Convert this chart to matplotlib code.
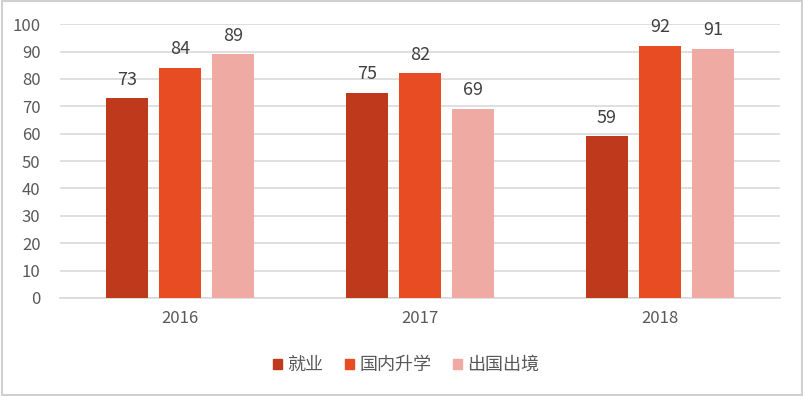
import matplotlib
matplotlib.use("Agg")
import matplotlib.pyplot as plt
import matplotlib.patches as mpatches
import numpy as np

plt.rcParams['font.family'] = ['Noto Sans CJK SC', 'DejaVu Sans']

years = ["2016", "2017", "2018"]
series = ["就业", "国内升学", "出国出境"]
jiuye = [73, 75, 59]
guonei = [84, 82, 92]
chuguo = [89, 69, 91]
colors = ["#BF3A1C", "#E84C22", "#EFAAA4"]

fig = plt.figure(figsize=(8.04, 3.96), dpi=100, facecolor="white")
ax = fig.add_axes([0.0746, 0.2475, 0.8954, 0.6915])

x = np.arange(len(years))
offsets = [-0.222, 0.0, 0.222]
width = 0.175
for vals, off, col in zip([jiuye, guonei, chuguo], offsets, colors):
    bars = ax.bar(x + off, vals, width=width, color=col, zorder=3)
    for b, v in zip(bars, vals):
        ax.text(b.get_x() + b.get_width() / 2, v + 3.5, str(v), ha="center", va="bottom",
                fontsize=13, color="#404040", zorder=4)

ax.set_xlim(-0.5, 2.5)
ax.set_ylim(0, 100)
ax.set_yticks(range(0, 101, 10))
ax.set_xticks(x)
ax.set_xticklabels(years)
ax.grid(axis="y", color="#d9d9d9", lw=1.2, zorder=0)
for s in ["top", "right", "left"]:
    ax.spines[s].set_visible(False)
ax.spines["bottom"].set_color("#d9d9d9")
ax.spines["bottom"].set_linewidth(1.2)
ax.tick_params(axis="both", length=0, colors="#595959", labelsize=12)
ax.tick_params(axis="y", pad=14)
ax.tick_params(axis="x", pad=9)

handles = [mpatches.Patch(color=c, label=l) for c, l in zip(colors, series)]
fig.legend(handles=handles, loc="center", bbox_to_anchor=(0.505, 0.078), ncol=3,
           frameon=False, fontsize=13, labelcolor="#595959", handlelength=0.5,
           handleheight=0.5, handletextpad=0.3, columnspacing=1.2)

fig.patches.append(mpatches.Rectangle((0.002, 0.003), 0.996, 0.994, transform=fig.transFigure,
                                      fill=False, ec="#d0d0d0", lw=1.5))

fig.savefig("out.png", dpi=100, facecolor="white")
